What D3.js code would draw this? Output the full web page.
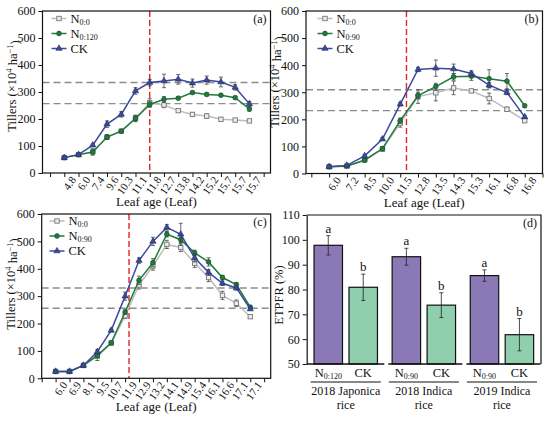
<!DOCTYPE html>
<html>
<head>
<meta charset="utf-8">
<script src="https://cdn.jsdelivr.net/npm/d3@7"></script>
<style>
  body { margin: 0; background: #fff; }
  text { font-family: "Liberation Serif", "Times New Roman", serif; fill: #111; }
</style>
</head>
<body>
<svg id="chart" width="550" height="424"></svg>
<script>
// ---------- data ----------
// panel (a), 2018 japonica
var leafA = ["4.8","6.0","7.4","9.6","10.3","11.1","11.8","12.7","13.8","14.2","15.2","15.7","15.7","15.7"];
var aN0     = [57, 68, 78, 133, 155, 203, 260, 252, 231, 217, 211, 199, 196, 193];
var aN0err  = [4, 4, 5, 8, 5, 10, 15, 10, 5, 6, 8, 5, 5, 5];
var aN120   = [57, 68, 78, 133, 155, 202, 254, 273, 277, 298, 291, 288, 279, 237];
var aN120err= [4, 4, 12, 8, 5, 12, 10, 10, 5, 5, 5, 5, 5, 8];
var aCK     = [57, 68, 103, 181, 217, 304, 335, 341, 347, 333, 344, 337, 317, 256];
var aCKerr  = [4, 4, 5, 12, 10, 12, 12, 25, 18, 15, 15, 18, 10, 8];
var aRef = [335, 257];
var aRed = 7;

// panel (b), 2018 indica
var leafB = ["6.0","7.2","8.5","10.0","11.5","12.8","13.5","14.3","15.3","16.1","16.8","16.8"];
var bN0     = [25, 27, 50, 90, 186, 284, 298, 316, 305, 277, 237, 195];
var bN0err  = [3, 3, 5, 8, 15, 25, 30, 25, 5, 20, 8, 5];
var bN90    = [25, 28, 49, 92, 195, 288, 321, 357, 359, 350, 341, 250];
var bN90err = [3, 4, 5, 6, 10, 12, 12, 12, 15, 33, 28, 6];
var bCK     = [25, 30, 65, 127, 256, 384, 389, 386, 369, 326, 299, 209];
var bCKerr  = [3, 4, 5, 5, 6, 8, 30, 18, 10, 10, 8, 5];
var bRef = [309, 232];
var bRed = 5.35;

// panel (c), 2019 indica
var leafC = ["6.0","6.9","8.1","9.5","10.7","11.9","12.9","13.2","14.1","14.9","15.4","16.1","16.6","17.1","17.1"];
var cN0     = [25, 25, 47, 80, 128, 228, 341, 410, 489, 478, 420, 368, 303, 274, 225];
var cN0err  = [3, 3, 5, 15, 5, 10, 15, 15, 15, 15, 15, 15, 15, 12, 5];
var cN90    = [25, 25, 47, 84, 130, 242, 358, 422, 526, 506, 458, 425, 368, 342, 260];
var cN90err = [3, 3, 5, 8, 5, 8, 15, 15, 10, 10, 10, 15, 8, 8, 5];
var cCK     = [25, 25, 47, 97, 175, 300, 430, 500, 551, 526, 440, 387, 347, 330, 253];
var cCKerr  = [3, 3, 5, 8, 5, 15, 10, 15, 10, 40, 15, 10, 8, 8, 5];
var cRef = [330, 256];
var cRed = 6.28;

// panel (d), ETPFR bars
var groups = ["2018 Japonica rice", "2018 Indica rice", "2019 Indica rice"];
var treatSub = ["0:120", "0:90", "0:90"];   // subscript of the N treatment in each group
var etpfrN   = [97.8, 93.2, 85.6];
var etpfrNerr= [3.9, 3.4, 2.3];
var etpfrCK  = [80.9, 73.7, 61.8];
var etpfrCKerr = [5.3, 5.0, 6.5];
var lettersN = ["a", "a", "a"];
var lettersCK= ["b", "b", "b"];
var yTicksD = [50, 60, 70, 80, 90, 100, 110];
var yTicksT = [0, 100, 200, 300, 400, 500, 600];

// ---------- styles ----------
var colN0 = "#bdbdbd", colN = "#1f7a3c", colCK = "#3b4a9c";
var colErr = "#444";

var svg = d3.select("#chart");

// write N with a subscript into a text node
function n_sub(sel, sub, big, small){
    sel.append("tspan").style("font-size", big + "px").text("N");
    sel.append("tspan").style("font-size", small + "px").attr("dy", "0.25em").text(sub);
}

// y title with superscripts
function tillers_title(g, x, y){
    var t = g.append("text")
        .attr("transform", "translate(" + x + "," + y + ") rotate(-90)")
        .attr("text-anchor", "middle")
        .style("font-size", "12.5px");
    t.append("tspan").text("Tillers (\u00d710");
    t.append("tspan").attr("dy", "-0.45em").style("font-size", "8.5px").text("4");
    t.append("tspan").attr("dy", "0.45em").text(" ha");
    t.append("tspan").attr("dy", "-0.45em").style("font-size", "8.5px").text("\u22121");
    t.append("tspan").attr("dy", "0.45em").text(")");
}

function line_panel(p){
    var g = svg.append("g");

    var x = d3.scaleLinear().domain(p.xdom).range([p.left, p.right]);
    var y = d3.scaleLinear().domain([0, 600]).range([p.bottom, p.top]);

    // reference lines
    p.refs.forEach(function(r){
        g.append("line")
            .attr("x1", p.left).attr("x2", p.right)
            .attr("y1", y(r)).attr("y2", y(r))
            .attr("stroke", "#8c8c8c").attr("stroke-width", 1.4)
            .attr("stroke-dasharray", "7,4");
    });
    g.append("line")
        .attr("x1", x(p.red)).attr("x2", x(p.red))
        .attr("y1", p.top).attr("y2", p.bottom)
        .attr("stroke", "#e32222").attr("stroke-width", 1.4)
        .attr("stroke-dasharray", "6,3");

    // axes
    var ticks = d3.range(0, p.nticks);
    var xAxis = d3.axisBottom(x).tickValues(ticks).tickSize(4).tickSizeOuter(0)
        .tickFormat(function(i){ return p.labels[i - 1] || ""; });
    var gx = g.append("g").attr("transform", "translate(0," + p.bottom + ")").call(xAxis);
    gx.select(".domain").remove();
    gx.selectAll("line").attr("stroke", "#111");
    gx.selectAll("text")
        .style("font-size", "11px")
        .style("font-family", "Liberation Serif")
        .attr("text-anchor", "end")
        .attr("transform", "translate(5,2) rotate(-55)")
        .attr("x", 0).attr("y", 0).attr("dy", "0.75em");

    var gy = g.append("g").attr("transform", "translate(" + p.left + ",0)")
        .call(d3.axisLeft(y).tickValues(yTicksT).tickSize(4).tickSizeOuter(0));
    gy.select(".domain").remove();
    gy.selectAll("line").attr("stroke", "#111");
    gy.selectAll("text").style("font-size", "12px").style("font-family", "Liberation Serif");

    // frame
    g.append("rect")
        .attr("x", p.left).attr("y", p.top)
        .attr("width", p.right - p.left).attr("height", p.bottom - p.top)
        .attr("fill", "none").attr("stroke", "#111").attr("stroke-width", 1.2);

    // the three series
    p.series.forEach(function(s){
        var pts = s.values.map(function(v, i){ return {i: i + 1, v: v, e: s.err[i]}; });
        var line = d3.line().x(function(d){ return x(d.i); }).y(function(d){ return y(d.v); });
        g.append("path").datum(pts)
            .attr("d", line).attr("fill", "none")
            .attr("stroke", s.color).attr("stroke-width", 1.5);

        // error bars
        var eb = g.append("g").attr("stroke", colErr).attr("stroke-width", 0.8);
        pts.forEach(function(d){
            var cx = x(d.i);
            eb.append("line").attr("x1", cx).attr("x2", cx).attr("y1", y(d.v - d.e)).attr("y2", y(d.v + d.e));
            eb.append("line").attr("x1", cx - 2).attr("x2", cx + 2).attr("y1", y(d.v - d.e)).attr("y2", y(d.v - d.e));
            eb.append("line").attr("x1", cx - 2).attr("x2", cx + 2).attr("y1", y(d.v + d.e)).attr("y2", y(d.v + d.e));
        });

        draw_markers(g, pts.map(function(d){ return [x(d.i), y(d.v)]; }), s);
    });

    // legend
    p.series.forEach(function(s, k){
        var ly = p.legY + k * 15;
        g.append("line")
            .attr("x1", p.legX).attr("x2", p.legX + 15)
            .attr("y1", ly).attr("y2", ly)
            .attr("stroke", s.color).attr("stroke-width", 1.5);
        draw_markers(g, [[p.legX + 7.5, ly]], s);
        var t = g.append("text").attr("x", p.legX + 19).attr("y", ly + 4);
        if (s.sub) n_sub(t, s.sub, 12.5, 8);
        else t.style("font-size", "12.5px").text(s.name);
    });

    // panel tag
    g.append("text")
        .attr("x", p.right - 4).attr("y", p.top + 12)
        .attr("text-anchor", "end").style("font-size", "12px").text(p.tag);

    // axis titles
    g.append("text")
        .attr("x", (p.left + p.right) / 2).attr("y", p.bottom + 33)
        .attr("text-anchor", "middle").style("font-size", "13px").text("Leaf age (Leaf)");
    tillers_title(g, p.left - 27, p.titleY);
}

function draw_markers(g, coords, s){
    coords.forEach(function(c){
        if (s.shape == "square"){
            g.append("rect")
                .attr("x", c[0] - 2.2).attr("y", c[1] - 2.2)
                .attr("width", 4.4).attr("height", 4.4)
                .attr("fill", "#ededed").attr("stroke", "#777").attr("stroke-width", 0.9);
        } else if (s.shape == "circle"){
            g.append("circle").attr("cx", c[0]).attr("cy", c[1]).attr("r", 2.4)
                .attr("fill", s.color).attr("stroke", "#0f4a22").attr("stroke-width", 0.6);
        } else {
            g.append("path")
                .attr("transform", "translate(" + c[0] + "," + c[1] + ")")
                .attr("d", d3.symbol().type(d3.symbolTriangle).size(17)())
                .attr("fill", s.color).attr("stroke", "#222a66").attr("stroke-width", 0.6);
        }
    });
}

line_panel({
    left: 42.5, right: 270.5, top: 11, bottom: 173, xdom: [-0.53, 15.48], nticks: 16,
    labels: leafA, refs: aRef, red: aRed, tag: "(a)", legX: 51.5, legY: 18.5, titleY: 86,
    series: [
        {name: "N0:0", sub: "0:0", values: aN0, err: aN0err, color: colN0, shape: "square"},
        {name: "N0:120", sub: "0:120", values: aN120, err: aN120err, color: colN, shape: "circle"},
        {name: "CK", values: aCK, err: aCKerr, color: colCK, shape: "triangle"}
    ]
});

line_panel({
    left: 306, right: 542.5, top: 11, bottom: 173.5, xdom: [-0.3, 13], nticks: 14,
    labels: leafB, refs: bRef, red: bRed, tag: "(b)", legX: 317.5, legY: 18.5, titleY: 82,
    series: [
        {name: "N0:0", sub: "0:0", values: bN0, err: bN0err, color: colN0, shape: "square"},
        {name: "N0:90", sub: "0:90", values: bN90, err: bN90err, color: colN, shape: "circle"},
        {name: "CK", values: bCK, err: bCKerr, color: colCK, shape: "triangle"}
    ]
});

line_panel({
    left: 41.7, right: 270.7, top: 214, bottom: 378.3, xdom: [0, 16.47], nticks: 17,
    labels: leafC, refs: cRef, red: cRed, tag: "(c)", legX: 49.5, legY: 221, titleY: 284,
    series: [
        {name: "N0:0", sub: "0:0", values: cN0, err: cN0err, color: colN0, shape: "square"},
        {name: "N0:90", sub: "0:90", values: cN90, err: cN90err, color: colN, shape: "circle"},
        {name: "CK", values: cCK, err: cCKerr, color: colCK, shape: "triangle"}
    ]
});

// ---------- panel (d) ----------
function bar_panel(){
    var left = 306.7, right = 541, top = 215, bottom = 364;
    var g = svg.append("g");

    var y = d3.scaleLinear().domain([50, 110]).range([bottom, top]);
    var gx = d3.scaleBand().domain(groups).range([left, right]).padding(0);
    var inner = d3.scaleBand().domain(["N", "CK"]).range([0, gx.bandwidth()])
        .paddingInner(0.186).paddingOuter(0.21);

    // y axis
    var gy = g.append("g").attr("transform", "translate(" + left + ",0)")
        .call(d3.axisLeft(y).tickValues(yTicksD).tickSize(4).tickSizeOuter(0));
    gy.select(".domain").attr("stroke", "#111").attr("stroke-width", 1.2);
    gy.selectAll("line").attr("stroke", "#111");
    gy.selectAll("text").style("font-size", "12px").style("font-family", "Liberation Serif");

    // top and right frame
    g.append("path")
        .attr("d", "M" + left + "," + top + "H" + right + "V" + bottom)
        .attr("fill", "none").attr("stroke", "#111").attr("stroke-width", 1.2);

    groups.forEach(function(grp, k){
        var gx0 = gx(grp);
        var bars = [
            {key: "N", v: etpfrN[k], e: etpfrNerr[k], fill: "#8b79b6", letter: lettersN[k]},
            {key: "CK", v: etpfrCK[k], e: etpfrCKerr[k], fill: "#8fcfad", letter: lettersCK[k]}
        ];
        bars.forEach(function(b){
            var bx = gx0 + inner(b.key), bw = inner.bandwidth();
            g.append("rect")
                .attr("x", bx).attr("y", y(b.v))
                .attr("width", bw).attr("height", y(50) - y(b.v))
                .attr("fill", b.fill).attr("stroke", "#111").attr("stroke-width", 1.2);
            var cx = bx + bw / 2;
            var eb = g.append("g").attr("stroke", "#222").attr("stroke-width", 0.8);
            eb.append("line").attr("x1", cx).attr("x2", cx).attr("y1", y(b.v - b.e)).attr("y2", y(b.v + b.e));
            eb.append("line").attr("x1", cx - 2).attr("x2", cx + 2).attr("y1", y(b.v - b.e)).attr("y2", y(b.v - b.e));
            eb.append("line").attr("x1", cx - 2).attr("x2", cx + 2).attr("y1", y(b.v + b.e)).attr("y2", y(b.v + b.e));
            g.append("text")
                .attr("x", cx).attr("y", y(b.v + b.e) - 3)
                .attr("text-anchor", "middle").style("font-size", "13px").text(b.letter);

            // category label under the bar
            var t = g.append("text").attr("x", cx).attr("y", bottom + 13)
                .attr("text-anchor", "middle");
            if (b.key == "N") n_sub(t, treatSub[k], 12.5, 8);
            else t.style("font-size", "12.5px").text("CK");
        });

        // broken bottom axis piece
        g.append("line")
            .attr("x1", gx0 + (k > 0 ? 3.5 : 0)).attr("x2", gx0 + gx.bandwidth() - 0.5)
            .attr("y1", bottom).attr("y2", bottom)
            .attr("stroke", "#111").attr("stroke-width", 1.4);

        // group bracket and name, two lines
        g.append("line")
            .attr("x1", gx0 + 4).attr("x2", gx0 + gx.bandwidth() - 4)
            .attr("y1", bottom + 18).attr("y2", bottom + 18)
            .attr("stroke", "#111").attr("stroke-width", 1);
        var words = grp.split(" ");
        var mid = gx0 + gx.bandwidth() / 2;
        g.append("text").attr("x", mid).attr("y", bottom + 31)
            .attr("text-anchor", "middle").style("font-size", "12px")
            .text(words.slice(0, 2).join(" "));
        g.append("text").attr("x", mid).attr("y", bottom + 44.5)
            .attr("text-anchor", "middle").style("font-size", "12px")
            .text(words.slice(2).join(" "));
    });

    g.append("text")
        .attr("x", right - 4).attr("y", top + 12)
        .attr("text-anchor", "end").style("font-size", "12px").text("(d)");

    g.append("text")
        .attr("transform", "translate(" + (left - 24) + "," + 295 + ") rotate(-90)")
        .attr("text-anchor", "middle").style("font-size", "12.5px").text("ETPFR (%)");
}

bar_panel();
</script>
</body>
</html>
